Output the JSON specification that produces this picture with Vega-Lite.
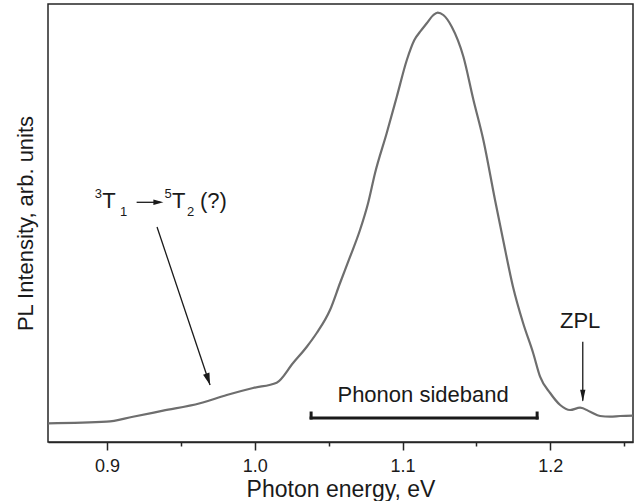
{
  "$schema": "https://vega.github.io/schema/vega-lite/v6.json",
  "width": 585,
  "height": 438,
  "autosize": {"type": "none"},
  "padding": {"left": 48, "top": 4, "right": 7, "bottom": 59},
  "background": "white",
  "config": {
    "font": "Liberation Sans",
    "view": {"stroke": "#262626", "strokeWidth": 1.5}
  },
  "datasets": {
    "spectrum": [
      {"energy": 0.8600, "intensity": 0.0435},
      {"energy": 0.8997, "intensity": 0.0473},
      {"energy": 0.9175, "intensity": 0.0589},
      {"energy": 0.9379, "intensity": 0.0729},
      {"energy": 0.9629, "intensity": 0.0901},
      {"energy": 0.9810, "intensity": 0.1095},
      {"energy": 0.9988, "intensity": 0.1258},
      {"energy": 1.0148, "intensity": 0.1381},
      {"energy": 1.0259, "intensity": 0.1840},
      {"energy": 1.0352, "intensity": 0.2219},
      {"energy": 1.0419, "intensity": 0.2538},
      {"energy": 1.0509, "intensity": 0.3074},
      {"energy": 1.0577, "intensity": 0.3703},
      {"energy": 1.0645, "intensity": 0.4315},
      {"energy": 1.0712, "intensity": 0.4937},
      {"energy": 1.0767, "intensity": 0.5566},
      {"energy": 1.0814, "intensity": 0.6265},
      {"energy": 1.0893, "intensity": 0.7196},
      {"energy": 1.0961, "intensity": 0.8041},
      {"energy": 1.1029, "intensity": 0.8896},
      {"energy": 1.1080, "intensity": 0.9362},
      {"energy": 1.1119, "intensity": 0.9555},
      {"energy": 1.1164, "intensity": 0.9751},
      {"energy": 1.1209, "intensity": 0.9944},
      {"energy": 1.1238, "intensity": 1.0000},
      {"energy": 1.1276, "intensity": 0.9944},
      {"energy": 1.1333, "intensity": 0.9672},
      {"energy": 1.1412, "intensity": 0.8973},
      {"energy": 1.1480, "intensity": 0.7965},
      {"energy": 1.1547, "intensity": 0.7033},
      {"energy": 1.1626, "intensity": 0.5636},
      {"energy": 1.1681, "intensity": 0.4704},
      {"energy": 1.1748, "intensity": 0.3610},
      {"energy": 1.1816, "intensity": 0.2771},
      {"energy": 1.1884, "intensity": 0.2073},
      {"energy": 1.1931, "intensity": 0.1521},
      {"energy": 1.1999, "intensity": 0.1141},
      {"energy": 1.2067, "intensity": 0.0862},
      {"energy": 1.2134, "intensity": 0.0745},
      {"energy": 1.2202, "intensity": 0.0799},
      {"energy": 1.2270, "intensity": 0.0706},
      {"energy": 1.2337, "intensity": 0.0605},
      {"energy": 1.2405, "intensity": 0.0589},
      {"energy": 1.2473, "intensity": 0.0605},
      {"energy": 1.2560, "intensity": 0.0612}
    ],
    "bracket": [
      {"energy": 1.0381, "energy2": 1.1911, "intensity": 0.0559, "intensity2": 0.0559},
      {"energy": 1.0381, "energy2": 1.0381, "intensity": 0.0559, "intensity2": 0.0675},
      {"energy": 1.1911, "energy2": 1.1911, "intensity": 0.0559, "intensity2": 0.0675}
    ],
    "shafts": [
      {"energy": 0.9338, "energy2": 0.9697, "intensity": 0.5007, "intensity2": 0.1327},
      {"energy": 1.2220, "energy2": 1.2220, "intensity": 0.2336, "intensity2": 0.0960},
      {"energy": 0.9200, "energy2": 0.9360, "intensity": 0.5582, "intensity2": 0.5582}
    ],
    "headSlanted": [{"energy": 0.9697, "intensity": 0.1327}],
    "headDown": [{"energy": 1.2220, "intensity": 0.0939}],
    "headRight": [{"energy": 0.9381, "intensity": 0.5582}],
    "centeredLabels": [
      {"energy": 1.1139, "intensity": 0.0939, "label": "Phonon sideband"},
      {"energy": 1.2202, "intensity": 0.2648, "label": "ZPL"}
    ],
    "termLabels": [
      {"energy": 0.8968, "intensity": 0.5442, "label": "T"},
      {"energy": 0.9440, "intensity": 0.5442, "label": "T"},
      {"energy": 0.9629, "intensity": 0.5442, "label": "(?)"}
    ],
    "termIndices": [
      {"energy": 0.8916, "intensity": 0.5675, "label": "3"},
      {"energy": 0.9088, "intensity": 0.5270, "label": "1"},
      {"energy": 0.9389, "intensity": 0.5675, "label": "5"},
      {"energy": 0.9541, "intensity": 0.5270, "label": "2"}
    ]
  },
  "encoding": {
    "x": {
      "field": "energy",
      "type": "quantitative",
      "scale": {"domain": [0.86, 1.256], "nice": false, "zero": false},
      "axis": {
        "title": "Photon energy, eV",
        "grid": false,
        "values": [0.9, 0.95, 1.0, 1.05, 1.1, 1.15, 1.2, 1.25],
        "labelExpr": "abs(datum.value * 10 - round(datum.value * 10)) < 0.01 ? format(datum.value, '.1f') : ''",
        "labelOverlap": false,
        "labelFlush": false,
        "labelFontSize": 18,
        "labelColor": "#1a1a1a",
        "labelPadding": 7,
        "tickSize": {"condition": {"test": "abs(datum.value * 10 - round(datum.value * 10)) < 0.01", "value": 8}, "value": 4},
        "tickColor": "#262626",
        "tickWidth": 1.5,
        "domainColor": "#262626",
        "domainWidth": 1.5,
        "titleFontSize": 23,
        "titleFontWeight": "normal",
        "titleColor": "#1a1a1a",
        "titleBaseline": "alphabetic",
        "titleY": 54
      }
    },
    "y": {
      "field": "intensity",
      "type": "quantitative",
      "scale": {"domain": [0, 1.02], "nice": false},
      "axis": {
        "title": "PL Intensity, arb. units",
        "grid": false,
        "labels": false,
        "ticks": false,
        "domain": false,
        "titleFontSize": 22,
        "titleFontWeight": "normal",
        "titleColor": "#1a1a1a",
        "titleBaseline": "middle",
        "titleX": -23,
        "titleY": 219
      }
    }
  },
  "layer": [
    {
      "data": {"name": "spectrum"},
      "mark": {"type": "line", "color": "#6e6e6e", "strokeWidth": 2.2, "interpolate": "monotone"}
    },
    {
      "data": {"name": "bracket"},
      "mark": {"type": "rule", "color": "#1a1a1a", "strokeWidth": 3, "strokeCap": "square"},
      "encoding": {"x2": {"field": "energy2"}, "y2": {"field": "intensity2"}}
    },
    {
      "data": {"name": "shafts"},
      "mark": {"type": "rule", "color": "#1a1a1a", "strokeWidth": 1.3},
      "encoding": {"x2": {"field": "energy2"}, "y2": {"field": "intensity2"}}
    },
    {
      "data": {"name": "headSlanted"},
      "mark": {"type": "point", "shape": "M0,0L-0.28,-1L0.28,-1Z", "filled": true, "opacity": 1, "color": "#1a1a1a", "strokeWidth": 0, "size": 576, "angle": 341.5}
    },
    {
      "data": {"name": "headDown"},
      "mark": {"type": "point", "shape": "M0,0L-0.22,-1L0.22,-1Z", "filled": true, "opacity": 1, "color": "#1a1a1a", "strokeWidth": 0, "size": 576, "angle": 0}
    },
    {
      "data": {"name": "headRight"},
      "mark": {"type": "point", "shape": "M0,0L-0.28,-1L0.28,-1Z", "filled": true, "opacity": 1, "color": "#1a1a1a", "strokeWidth": 0, "size": 400, "angle": 270}
    },
    {
      "data": {"name": "centeredLabels"},
      "mark": {"type": "text", "fontSize": 22, "align": "center", "baseline": "alphabetic", "color": "#1a1a1a"},
      "encoding": {"text": {"field": "label"}}
    },
    {
      "data": {"name": "termLabels"},
      "mark": {"type": "text", "fontSize": 22, "align": "left", "baseline": "alphabetic", "color": "#1a1a1a"},
      "encoding": {"text": {"field": "label"}}
    },
    {
      "data": {"name": "termIndices"},
      "mark": {"type": "text", "fontSize": 13, "align": "left", "baseline": "alphabetic", "color": "#1a1a1a"},
      "encoding": {"text": {"field": "label"}}
    }
  ]
}
